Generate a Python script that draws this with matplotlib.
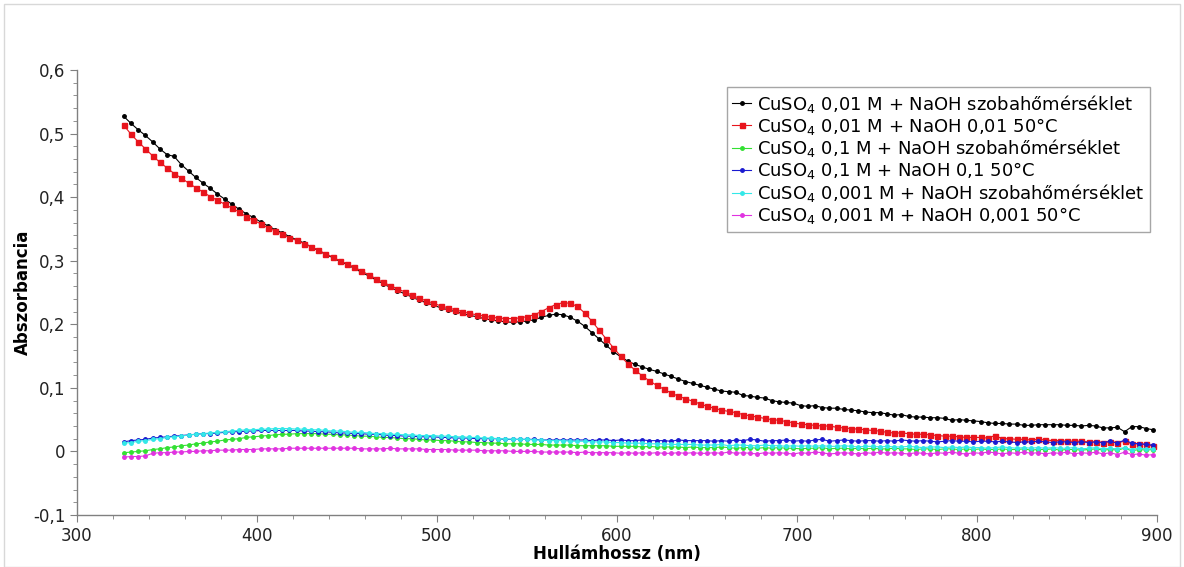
import numpy as np
import matplotlib
matplotlib.use('Agg')
import matplotlib.pyplot as plt
from matplotlib.ticker import MultipleLocator, FuncFormatter
from matplotlib.patches import Rectangle

plt.rcParams['font.family'] = ['DejaVu Sans']
plt.rcParams['axes.unicode_minus'] = False

# wavelength grid (nm), 4 nm step as measured
wavelength = np.arange(326, 899, 4)

# CuSO4 0,01 M + NaOH szobahőmérséklet
black = [
    0.527, 0.516, 0.506, 0.497, 0.487, 0.476, 0.467, 0.464, 0.451, 0.441, 0.431, 0.422,
    0.414, 0.405, 0.397, 0.389, 0.381, 0.374, 0.368, 0.361, 0.355, 0.349, 0.344, 0.338,
    0.333, 0.328, 0.322, 0.316, 0.310, 0.305, 0.299, 0.294, 0.288, 0.282, 0.276, 0.270,
    0.264, 0.258, 0.253, 0.248, 0.243, 0.238, 0.234, 0.230, 0.226, 0.223, 0.220, 0.217,
    0.214, 0.212, 0.209, 0.207, 0.205, 0.204, 0.203, 0.204, 0.205, 0.207, 0.211, 0.214,
    0.216, 0.215, 0.211, 0.205, 0.197, 0.187, 0.177, 0.167, 0.157, 0.149, 0.142, 0.137,
    0.133, 0.129, 0.126, 0.122, 0.118, 0.114, 0.110, 0.107, 0.104, 0.101, 0.098, 0.095,
    0.094, 0.093, 0.088, 0.087, 0.085, 0.084, 0.080, 0.078, 0.077, 0.076, 0.072, 0.071,
    0.072, 0.069, 0.068, 0.068, 0.066, 0.065, 0.064, 0.062, 0.061, 0.061, 0.059, 0.057,
    0.058, 0.055, 0.054, 0.054, 0.053, 0.053, 0.052, 0.049, 0.050, 0.049, 0.048, 0.047,
    0.045, 0.044, 0.044, 0.043, 0.043, 0.041, 0.041, 0.042, 0.042, 0.042, 0.042, 0.041,
    0.041, 0.040, 0.041, 0.040, 0.037, 0.037, 0.038, 0.031, 0.039, 0.039, 0.036, 0.034,
]

# CuSO4 0,01 M + NaOH 0,01 50°C
red = [
    0.513, 0.499, 0.487, 0.476, 0.465, 0.455, 0.446, 0.437, 0.430, 0.422, 0.415, 0.408,
    0.401, 0.395, 0.389, 0.383, 0.377, 0.369, 0.364, 0.358, 0.352, 0.347, 0.342, 0.336,
    0.332, 0.327, 0.322, 0.317, 0.311, 0.306, 0.300, 0.295, 0.290, 0.284, 0.278, 0.272,
    0.266, 0.261, 0.256, 0.251, 0.246, 0.241, 0.237, 0.233, 0.229, 0.226, 0.223, 0.220,
    0.217, 0.215, 0.213, 0.211, 0.210, 0.209, 0.209, 0.210, 0.212, 0.215, 0.220, 0.226,
    0.231, 0.234, 0.233, 0.228, 0.218, 0.205, 0.191, 0.177, 0.163, 0.150, 0.138, 0.128,
    0.119, 0.111, 0.104, 0.098, 0.092, 0.087, 0.083, 0.079, 0.075, 0.071, 0.068, 0.065,
    0.063, 0.061, 0.058, 0.056, 0.054, 0.052, 0.050, 0.049, 0.047, 0.045, 0.043, 0.042,
    0.041, 0.040, 0.040, 0.038, 0.037, 0.036, 0.035, 0.034, 0.033, 0.032, 0.030, 0.029,
    0.029, 0.028, 0.027, 0.027, 0.026, 0.025, 0.024, 0.024, 0.023, 0.022, 0.022, 0.022,
    0.021, 0.025, 0.020, 0.020, 0.019, 0.019, 0.018, 0.019, 0.018, 0.017, 0.017, 0.016,
    0.016, 0.016, 0.015, 0.015, 0.014, 0.015, 0.014, 0.016, 0.012, 0.012, 0.011, 0.008,
]

# CuSO4 0,1 M + NaOH szobahőmérséklet
green = [
    -0.002, -0.001, 0.000, 0.001, 0.003, 0.004, 0.006, 0.007, 0.009, 0.010, 0.012, 0.013,
    0.015, 0.016, 0.018, 0.019, 0.020, 0.022, 0.023, 0.024, 0.025, 0.026, 0.027, 0.027,
    0.028, 0.028, 0.028, 0.028, 0.027, 0.027, 0.026, 0.026, 0.025, 0.024, 0.024, 0.023,
    0.022, 0.022, 0.021, 0.020, 0.020, 0.019, 0.018, 0.018, 0.017, 0.017, 0.016, 0.015,
    0.015, 0.014, 0.014, 0.013, 0.013, 0.012, 0.012, 0.012, 0.011, 0.011, 0.011, 0.010,
    0.010, 0.010, 0.010, 0.009, 0.009, 0.009, 0.009, 0.009, 0.008, 0.008, 0.008, 0.008,
    0.007, 0.008, 0.007, 0.007, 0.007, 0.007, 0.006, 0.007, 0.006, 0.006, 0.006, 0.007,
    0.006, 0.005, 0.006, 0.006, 0.005, 0.006, 0.005, 0.006, 0.005, 0.005, 0.004, 0.005,
    0.005, 0.006, 0.004, 0.005, 0.005, 0.004, 0.005, 0.004, 0.005, 0.004, 0.004, 0.005,
    0.004, 0.004, 0.003, 0.004, 0.004, 0.003, 0.004, 0.004, 0.003, 0.004, 0.003, 0.004,
    0.003, 0.003, 0.004, 0.003, 0.003, 0.004, 0.002, 0.003, 0.003, 0.004, 0.002, 0.003,
    0.003, 0.002, 0.003, 0.004, 0.002, 0.003, 0.002, 0.005, 0.001, 0.003, 0.002, 0.003,
]

# CuSO4 0,1 M + NaOH 0,1 50°C
blue = [
    0.015, 0.017, 0.018, 0.019, 0.021, 0.022, 0.023, 0.024, 0.025, 0.026, 0.027, 0.028,
    0.028, 0.029, 0.030, 0.031, 0.031, 0.032, 0.032, 0.033, 0.033, 0.033, 0.033, 0.033,
    0.033, 0.032, 0.032, 0.031, 0.031, 0.030, 0.029, 0.029, 0.028, 0.028, 0.027, 0.027,
    0.026, 0.025, 0.025, 0.024, 0.024, 0.023, 0.023, 0.023, 0.022, 0.022, 0.021, 0.021,
    0.021, 0.020, 0.020, 0.020, 0.020, 0.019, 0.019, 0.019, 0.019, 0.019, 0.018, 0.018,
    0.018, 0.018, 0.018, 0.018, 0.018, 0.017, 0.018, 0.018, 0.017, 0.018, 0.017, 0.017,
    0.018, 0.017, 0.017, 0.017, 0.016, 0.018, 0.017, 0.017, 0.017, 0.017, 0.016, 0.017,
    0.016, 0.018, 0.017, 0.019, 0.018, 0.016, 0.017, 0.017, 0.018, 0.016, 0.017, 0.016,
    0.018, 0.019, 0.016, 0.017, 0.018, 0.017, 0.016, 0.017, 0.017, 0.016, 0.017, 0.016,
    0.018, 0.017, 0.016, 0.017, 0.016, 0.015, 0.016, 0.017, 0.016, 0.016, 0.015, 0.016,
    0.016, 0.015, 0.016, 0.015, 0.014, 0.015, 0.015, 0.016, 0.015, 0.014, 0.015, 0.015,
    0.014, 0.015, 0.014, 0.015, 0.014, 0.016, 0.013, 0.018, 0.013, 0.012, 0.011, 0.010,
]

# CuSO4 0,001 M + NaOH szobahőmérséklet
cyan = [
    0.013, 0.014, 0.016, 0.017, 0.019, 0.020, 0.022, 0.023, 0.024, 0.026, 0.027, 0.028,
    0.029, 0.030, 0.031, 0.032, 0.033, 0.034, 0.034, 0.035, 0.035, 0.036, 0.036, 0.036,
    0.035, 0.035, 0.034, 0.034, 0.033, 0.032, 0.032, 0.031, 0.030, 0.030, 0.029, 0.028,
    0.028, 0.027, 0.027, 0.026, 0.026, 0.025, 0.025, 0.025, 0.024, 0.024, 0.023, 0.023,
    0.022, 0.022, 0.021, 0.021, 0.020, 0.020, 0.019, 0.019, 0.019, 0.018, 0.018, 0.017,
    0.017, 0.017, 0.016, 0.016, 0.016, 0.015, 0.015, 0.015, 0.014, 0.014, 0.013, 0.013,
    0.013, 0.012, 0.012, 0.012, 0.011, 0.011, 0.011, 0.011, 0.010, 0.010, 0.010, 0.011,
    0.009, 0.010, 0.010, 0.009, 0.009, 0.010, 0.009, 0.009, 0.008, 0.009, 0.008, 0.009,
    0.008, 0.009, 0.008, 0.008, 0.009, 0.008, 0.007, 0.008, 0.008, 0.007, 0.008, 0.007,
    0.007, 0.008, 0.007, 0.006, 0.007, 0.007, 0.006, 0.007, 0.006, 0.007, 0.006, 0.006,
    0.005, 0.006, 0.007, 0.006, 0.005, 0.006, 0.005, 0.006, 0.005, 0.006, 0.005, 0.005,
    0.006, 0.004, 0.005, 0.006, 0.004, 0.005, 0.004, 0.006, 0.003, 0.005, 0.004, 0.004,
]

# CuSO4 0,001 M + NaOH 0,001 50°C
magenta = [
    -0.009, -0.008, -0.008, -0.007, -0.003, -0.002, -0.002, -0.001, -0.001, 0.000, 0.000, 0.001,
    0.001, 0.002, 0.002, 0.002, 0.003, 0.003, 0.003, 0.004, 0.004, 0.004, 0.004, 0.005,
    0.005, 0.005, 0.005, 0.005, 0.005, 0.005, 0.005, 0.005, 0.005, 0.004, 0.004, 0.004,
    0.004, 0.005, 0.004, 0.004, 0.004, 0.004, 0.003, 0.003, 0.003, 0.003, 0.002, 0.002,
    0.002, 0.002, 0.001, 0.001, 0.001, 0.001, 0.000, 0.000, 0.000, 0.000, -0.001, -0.001,
    -0.001, -0.001, -0.001, -0.002, -0.001, -0.002, -0.002, -0.002, -0.002, -0.003, -0.002, -0.003,
    -0.002, -0.003, -0.002, -0.003, -0.003, -0.002, -0.003, -0.002, -0.003, -0.003, -0.002, -0.003,
    -0.001, -0.003, -0.002, -0.003, -0.004, -0.002, -0.003, -0.002, -0.003, -0.004, -0.002, -0.003,
    -0.001, -0.002, -0.004, -0.003, -0.002, -0.003, -0.004, -0.002, -0.003, -0.001, -0.003, -0.002,
    -0.003, -0.004, -0.002, -0.003, -0.004, -0.002, -0.003, -0.001, -0.003, -0.004, -0.002, -0.003,
    -0.001, -0.002, -0.004, -0.002, -0.003, -0.001, -0.003, -0.002, -0.004, -0.002, -0.003, -0.001,
    -0.004, -0.002, -0.003, -0.001, -0.004, -0.002, -0.005, -0.001, -0.005, -0.004, -0.006, -0.005,
]

labels = [
    'CuSO$_4$ 0,01 M + NaOH szobahőmérséklet',
    'CuSO$_4$ 0,01 M + NaOH 0,01 50°C',
    'CuSO$_4$ 0,1 M + NaOH szobahőmérséklet',
    'CuSO$_4$ 0,1 M + NaOH 0,1 50°C',
    'CuSO$_4$ 0,001 M + NaOH szobahőmérséklet',
    'CuSO$_4$ 0,001 M + NaOH 0,001 50°C',
]

series = [black, red, green, blue, cyan, magenta]
colors = ['#000000', '#e8141c', '#33e033', '#1a1ad0', '#33e8e8', '#e033e0']
markers = ['o', 's', 'o', 'o', 'o', 'o']
msizes = [2.5, 3.6, 2.5, 2.5, 2.5, 2.5]

fig = plt.figure(figsize=(11.84, 5.67), dpi=100)
ax = fig.add_axes([77/1184, 1 - 515/567, 1080/1184, 445/567])

for ys, lab, c, m, ms in zip(series, labels, colors, markers, msizes):
    ax.plot(wavelength[:len(ys)], ys, color=c, lw=0.8, marker=m, ms=ms,
            mec=c, mfc=c, label=lab)

ax.set_xlim(300, 900)
ax.set_ylim(-0.1, 0.6)
ax.xaxis.set_major_locator(MultipleLocator(100))
ax.xaxis.set_minor_locator(MultipleLocator(20))
ax.yaxis.set_major_locator(MultipleLocator(0.1))
ax.yaxis.set_minor_locator(MultipleLocator(0.02))

def comma(v, pos):
    s = '%g' % round(v, 3)
    return s.replace('.', ',')

ax.yaxis.set_major_formatter(FuncFormatter(comma))

for side in ['top', 'right']:
    ax.spines[side].set_visible(False)
for side in ['left', 'bottom']:
    ax.spines[side].set_color('#808080')
    ax.spines[side].set_linewidth(1.0)

ax.tick_params(which='major', length=5, color='#808080', labelsize=12, labelcolor='#222222')
ax.tick_params(which='minor', length=3, color='#808080')

ax.set_xlabel('Hullámhossz (nm)', fontsize=12, fontweight='bold', labelpad=0)
ax.set_ylabel('Abszorbancia', fontsize=12, fontweight='bold', labelpad=1)

leg = ax.legend(loc='upper right', bbox_to_anchor=(1.0, 1 - 10/445), fontsize=13,
                frameon=True, fancybox=False, borderpad=0.3, labelspacing=0.05,
                handlelength=1.0, handletextpad=0.35, borderaxespad=0.4)
leg.get_frame().set_edgecolor('#909090')
leg.get_frame().set_linewidth(1.0)

fig.patches.append(Rectangle((4/1184, 0), 1176/1184, 1 - 4/567, transform=fig.transFigure,
                             fill=False, edgecolor='#d8d8d8', lw=1.0))

fig.savefig('out.png', dpi=100)
